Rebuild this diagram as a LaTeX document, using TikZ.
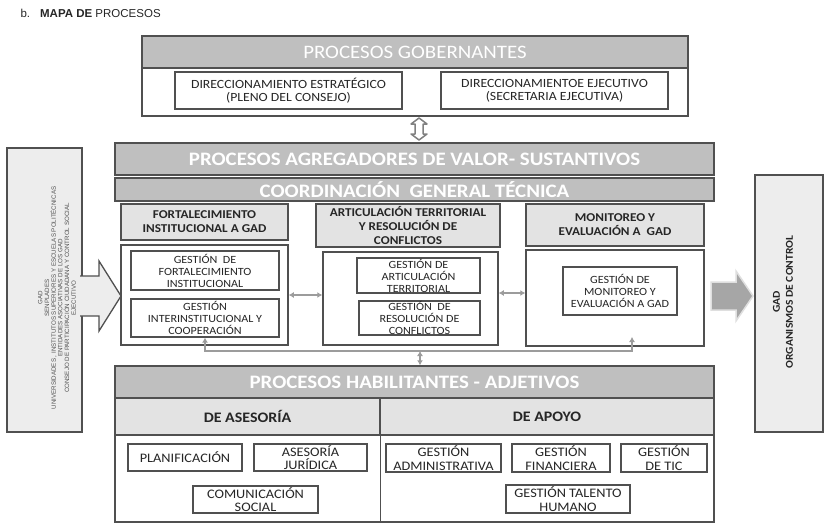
\documentclass[tikz,border=0pt]{standalone}
\usepackage{fontspec}
\setmainfont{Carlito}[FakeStretch=1.1]
\newfontfamily\arialf{Liberation Sans}
\usetikzlibrary{arrows.meta}
\definecolor{bandgray}{HTML}{BFBFBF}
\definecolor{hdrgray}{HTML}{E3E3E3}
\definecolor{sidegray}{HTML}{EDEDED}
\definecolor{edge}{HTML}{505050}
\definecolor{conngray}{HTML}{9C9C9C}
\definecolor{txt}{HTML}{262626}
\tikzset{
  wh/.style 2 args={minimum width=#1, minimum height=#2},
  frame/.style={draw=edge, line width=1.5pt, fill=white, inner sep=0pt, rectangle},
  band/.style={frame, fill=bandgray, text=white, font=\fontsize{19}{21}\selectfont\bfseries},
  hdr/.style={frame, fill=hdrgray, line width=1.3pt, text=txt, align=center, font=\fontsize{12}{14}\selectfont\bfseries},
  gbox/.style={draw=edge, line width=1.2pt, fill=white, inner sep=0pt, text=txt, align=center, font=\fontsize{11}{12}\selectfont},
  hbox/.style={gbox, font=\fontsize{13}{13.5}\selectfont},
  conn/.style={draw=conngray, line width=2pt, {Latex[length=5pt,width=6pt]}-{Latex[length=5pt,width=6pt]}},
}
\begin{document}
\begin{tikzpicture}[x=1pt,y=-1pt]
\useasboundingbox (0,0) rectangle (833,525);
% title
\node[anchor=west, text=txt, font=\arialf\fontsize{11.5}{12}\selectfont] (title) at (17,13) {b.\hspace{10pt}\textbf{MAPA DE} PROCESOS};
% gobernantes
\node[frame, wh={546}{80}] (gob) at (415,76) {};
\node[frame, fill=bandgray, text=white, wh={546}{32}, font=\fontsize{19}{21}\selectfont] (gobh) at (415,52) {PROCESOS GOBERNANTES};
\node[gbox, wh={227}{37}, font=\fontsize{12.5}{13}\selectfont] (dir1) at (288.5,90.5) {DIRECCIONAMIENTO ESTRATÉGICO\\(PLENO DEL CONSEJO)};
\node[gbox, wh={227}{37}, font=\fontsize{12.5}{13}\selectfont] (dir2) at (554.5,90.5) {DIRECCIONAMIENTOE EJECUTIVO\\(SECRETARIA EJECUTIVA)};
% outline double arrow
\draw[draw=gray, line width=1.5pt, fill=white, line join=round]
  (419,118) -- (427,124) -- (423,124) -- (423,134) -- (427,134) -- (419,140)
  -- (411,134) -- (415,134) -- (415,124) -- (411,124) -- cycle;
% sustantivos
\node[band, wh={599}{32}] (sust) at (414.5,159) {PROCESOS AGREGADORES DE VALOR- SUSTANTIVOS};
\node[band, wh={599}{23}] (coord) at (414.5,189.5) {COORDINACIÓN\ \ GENERAL TÉCNICA};
\node[hdr, wh={167}{36}] (h1) at (204.5,222) {FORTALECIMIENTO\\INSTITUCIONAL A GAD};
\node[hdr, wh={184}{43}] (h2) at (408,225.5) {ARTICULACIÓN TERRITORIAL\\Y RESOLUCIÓN DE\\CONFLICTOS};
\node[hdr, wh={178}{42}] (h3) at (615,225) {MONITOREO Y\\EVALUACIÓN A\ \ GAD};
\node[frame, wh={167}{100}] (c1) at (204.5,295) {};
\node[frame, wh={175}{93}] (c2) at (410.5,298.5) {};
\node[frame, wh={178}{96}] (c3) at (615,298) {};
\node[gbox, wh={148}{39}] (g1) at (205,270.5) {GESTIÓN\ \ DE\\FORTALECIMIENTO\\INSTITUCIONAL};
\node[gbox, wh={148}{38}] (g2) at (205,318) {GESTIÓN\\INTERINSTITUCIONAL Y\\COOPERACIÓN};
\node[gbox, wh={123}{35}] (g3) at (418.5,275.5) {GESTIÓN DE\\ARTICULACIÓN\\TERRITORIAL};
\node[gbox, wh={121}{34}] (g4) at (419.5,318) {GESTIÓN\ \ DE\\RESOLUCIÓN DE\\CONFLICTOS};
\node[gbox, wh={114}{48}] (g5) at (620,291) {GESTIÓN DE\\MONITOREO Y\\EVALUACIÓN A GAD};
% connectors
\coordinate (m2) at (0,293);
\draw[conn] (c1.east) -- (c1.east -| c2.west);
\draw[conn] (c2.east |- m2) -- (c3.west |- m2);
\coordinate (bl) at (205,351);
\coordinate (br) at (632,351);
\coordinate (rt) at (632,337);
\draw[conn, line join=miter] (g2.south) -- (bl) -- (br) -- (rt);
\coordinate (mv) at (420,351);
% habilitantes
\node[frame, wh={599}{156}] (hab) at (414.5,444) {};
\draw[conn] (mv) -- (mv |- hab.north);
\node[band, wh={599}{32}] (habh) at (414.5,382) {PROCESOS HABILITANTES - ADJETIVOS};
\node[hdr, wh={265}{37}, font=\fontsize{14.5}{16}\selectfont\bfseries] (ases) at (247.5,416.5) {DE ASESORÍA};
\node[hdr, wh={334}{37}, font=\fontsize{14.5}{16}\selectfont\bfseries] (apoyo) at (547,416.5) {DE APOYO};
\draw[draw=edge, line width=1.3pt] (ases.south east) -- (ases.south east |- hab.south);
\node[hbox, wh={114}{27}] (p1) at (185,457.5) {PLANIFICACIÓN};
\node[hbox, wh={113}{27}] (p2) at (310.5,457.5) {ASESORÍA\\JURÍDICA};
\node[hbox, wh={125}{27}] (p3) at (255.5,499.5) {COMUNICACIÓN\\SOCIAL};
\node[hbox, wh={115}{28}] (a1) at (443.5,458) {GESTIÓN\\ADMINISTRATIVA};
\node[hbox, wh={98}{28}] (a2) at (561,458) {GESTIÓN\\FINANCIERA};
\node[hbox, wh={86}{28}] (a3) at (664,458) {GESTIÓN\\DE TIC};
\node[hbox, wh={124}{28}] (a4) at (568,499) {GESTIÓN TALENTO\\HUMANO};
% left box
\node[frame, fill=sidegray, wh={75}{284}] (lb) at (44.5,290) {};
\node[rotate=90, align=center, text=txt!80, font=\arialf\fontsize{6.2}{6.7}\selectfont] (lbt) at (57,298)
  {GAD\\SENPLADES\\UNIVERSIDADES , INSTITUTOS SUPERIORES Y ESCUELAS POLITÉCNICAS\\ENTIDADES ASOCIATIVAS DE LOS GAD\\CONSEJO DE PARTICIPACIÓN CIUDADANA Y CONTROL SOCIAL\\EJECUTIVO};
\draw[draw=edge, line width=1.3pt, fill=sidegray, line join=miter]
  (80,276) -- (99,276) -- (99,261) -- (121,296) -- (99,331) -- (99,316) -- (80,316);
% right arrow
\draw[draw=gray!25, line width=1.5pt, fill=gray!70]
  (711,282) -- (736,282) -- (736,271) -- (753,296) -- (736,321) -- (736,310) -- (711,310) -- cycle;
% right box
\node[frame, fill=sidegray, line width=2pt, wh={68}{257}] (rb) at (789,303.5) {};
\node[rotate=90, align=center, text=txt, font=\fontsize{10.5}{13}\selectfont\bfseries] (rbt) at (783,302) {GAD\\ORGANISMOS DE CONTROL};
\end{tikzpicture}
\end{document}
